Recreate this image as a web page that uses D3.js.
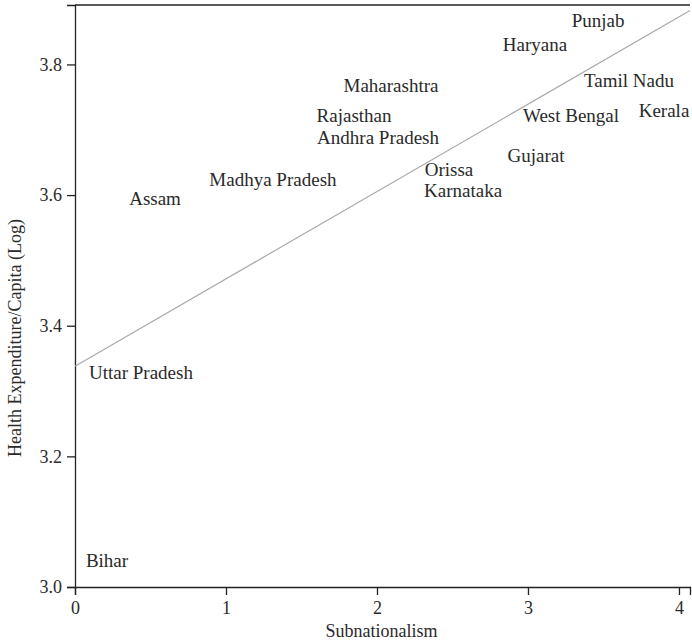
<html>
<head>
<script src="https://d3js.org/d3.v7.min.js"></script>
<style>
  body { margin: 0; background: #fff; }
  svg text { font-family: 'Liberation Serif', 'Times New Roman', Times, serif; fill: #2a2a2a; }
  .axis path, .axis line { stroke: #222; stroke-width: 1.3px; }
  .axis text { font-size: 18px; }
  .labels { font-size: 19px; }
</style>
</head>
<body>
<svg id="chart" width="692" height="643"></svg>
<script>
// states (label centres)
const states = ["Punjab", "Haryana", "Maharashtra", "Rajasthan", "Andhra Pradesh",
  "Orissa", "Karnataka", "Tamil Nadu", "West Bengal", "Kerala", "Gujarat",
  "Madhya Pradesh", "Assam", "Uttar Pradesh", "Bihar"];
const subnationalism = [3.464, 3.046, 2.093, 1.848, 2.007,
  2.477, 2.570, 3.669, 3.285, 3.901, 3.053,
  1.311, 0.530, 0.437, 0.212];
const healthExp = [3.867, 3.831, 3.768, 3.722, 3.688,
  3.639, 3.607, 3.775, 3.722, 3.730, 3.661,
  3.624, 3.595, 3.328, 3.041];

// fitted line
const fitIntercept = 3.338;
const fitSlope = 0.1337;

const xTicks = [0, 1, 2, 3, 4];
const yTicks = [3.0, 3.2, 3.4, 3.6, 3.8];

const svg = d3.select("#chart");
const width = svg.attr("width");
const height = svg.attr("height");
const margin = { top: 5, right: 2, bottom: 56, left: 75 };
const chartWidth = width - margin.left - margin.right;
const chartHeight = height - margin.top - margin.bottom;

const chartArea = svg.append("g")
  .attr("transform", `translate(${margin.left},${margin.top})`);

const xScale = d3.scaleLinear().domain([0, 4.073]).range([0, chartWidth]);
const yScale = d3.scaleLinear().domain([3.0, 3.891]).range([chartHeight, 0]);

// top frame line
chartArea.append("line")
  .attr("x1", 0).attr("x2", chartWidth)
  .attr("y1", 0).attr("y2", 0)
  .style("stroke", "#222").style("stroke-width", "1.3px");

chartArea.append("g")
  .attr("class", "axis")
  .attr("transform", `translate(0,${chartHeight})`)
  .call(d3.axisBottom(xScale).tickValues(xTicks).tickFormat(d3.format("d"))
    .tickSizeOuter(0).tickSize(8).tickPadding(6));

chartArea.append("g")
  .attr("class", "axis")
  .call(d3.axisLeft(yScale).tickValues(yTicks).tickFormat(d3.format(".1f"))
    .tickSizeOuter(0).tickSize(8).tickPadding(5));

// regression line
const xr = xScale.domain();
chartArea.append("line")
  .attr("x1", xScale(xr[0])).attr("y1", yScale(fitIntercept + fitSlope * xr[0]))
  .attr("x2", xScale(xr[1])).attr("y2", yScale(fitIntercept + fitSlope * xr[1]))
  .style("stroke", "#aaa").style("stroke-width", "1.2px");

const data = states.map((s, i) => ({ name: s, x: subnationalism[i], y: healthExp[i] }));

chartArea.selectAll("text.labels").data(data)
  .join("text")
  .attr("class", "labels")
  .attr("x", d => xScale(d.x))
  .attr("y", d => yScale(d.y))
  .attr("text-anchor", "middle")
  .attr("dy", "0.35em")
  .text(d => d.name);

svg.append("text")
  .attr("x", margin.left + xScale(2.03))
  .attr("y", 637)
  .attr("text-anchor", "middle")
  .style("font-size", "18px")
  .text("Subnationalism");

svg.append("text")
  .attr("transform", "translate(21,338) rotate(-90)")
  .attr("text-anchor", "middle")
  .style("font-size", "18px")
  .text("Health Expenditure/Capita (Log)");
</script>
</body>
</html>
